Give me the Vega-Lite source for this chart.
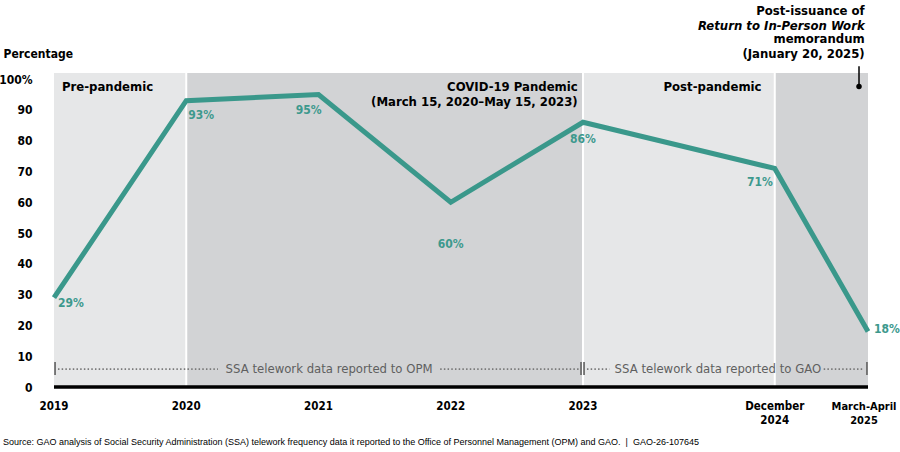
{
  "$schema": "https://vega.github.io/schema/vega-lite/v6.json",
  "autosize": {"type": "none"},
  "width": 814,
  "height": 314,
  "padding": {"left": 54, "top": 73, "right": 32, "bottom": 65},
  "background": "white",
  "config": {
    "view": {"stroke": null},
    "font": "DejaVu Sans Condensed, Roboto, sans-serif",
    "text": {"font": "DejaVu Sans Condensed, Roboto, sans-serif"},
    "axis": {"labelOverlap": false}
  },
  "title": {
    "text": "Source: GAO analysis of Social Security Administration (SSA) telework frequency data it reported to the Office of Personnel Management (OPM) and GAO.\u00a0\u00a0|\u00a0\u00a0GAO-26-107645",
    "orient": "bottom",
    "anchor": "start",
    "frame": "group",
    "font": "Liberation Sans",
    "fontSize": 9,
    "fontWeight": "normal",
    "color": "#000000",
    "offset": 11,
    "dx": -51
  },
  "datasets": {
    "series": [
      {"period": "2019", "pos": 0, "pct": 29, "label": "29%"},
      {"period": "2020", "pos": 1, "pct": 93, "label": "93%"},
      {"period": "2021", "pos": 2, "pct": 95, "label": "95%"},
      {"period": "2022", "pos": 3, "pct": 60, "label": "60%"},
      {"period": "2023", "pos": 4, "pct": 86, "label": "86%"},
      {"period": "December\n2024", "pos": 5.45, "pct": 71, "label": "71%"},
      {"period": "March-April\n2025", "pos": 6.155, "pct": 18, "label": "18%"}
    ],
    "phases": [
      {"phase": "Pre-pandemic", "start": 0, "end": 1, "shade": "light"},
      {"phase": "COVID-19 Pandemic", "start": 1, "end": 4, "shade": "dark"},
      {"phase": "Post-pandemic", "start": 4, "end": 5.45, "shade": "light"},
      {"phase": "Post-issuance", "start": 5.45, "end": 6.155, "shade": "dark"}
    ],
    "separators": [{"pos": 1}, {"pos": 4}, {"pos": 5.45}],
    "dots": [
      {"x1": 0.03, "x2": 1.24},
      {"x1": 2.92, "x2": 3.97},
      {"x1": 4.03, "x2": 4.2},
      {"x1": 5.82, "x2": 6.12}
    ],
    "bars": [{"pos": 0.008}, {"pos": 3.985}, {"pos": 4.008}, {"pos": 6.147}],
    "sources": [
      {"text": "SSA telework data reported to OPM", "pos": 2.08},
      {"text": "SSA telework data reported to GAO", "pos": 5.02}
    ]
  },
  "layer": [
    {
      "data": {"name": "phases"},
      "mark": {"type": "rect"},
      "encoding": {
        "x": {"field": "start", "type": "quantitative", "scale": {"domain": [0, 6.155], "nice": false, "zero": false}, "axis": null},
        "x2": {"field": "end"},
        "y": {"datum": 0, "type": "quantitative", "scale": {"domain": [0, 102], "nice": false}},
        "y2": {"datum": 102},
        "color": {"field": "shade", "type": "nominal", "scale": {"domain": ["light", "dark"], "range": ["#e6e7e8", "#d2d3d5"]}, "legend": null}
      }
    },
    {
      "data": {"name": "separators"},
      "mark": {"type": "rule", "color": "#ffffff", "strokeWidth": 2},
      "encoding": {
        "x": {"field": "pos", "type": "quantitative"},
        "y": {"datum": 0},
        "y2": {"datum": 102}
      }
    },
    {
      "data": {"name": "dots"},
      "mark": {"type": "rule", "color": "#7a7a7a", "strokeWidth": 1.6, "strokeDash": [1.5, 2.2]},
      "encoding": {
        "x": {"field": "x1", "type": "quantitative"},
        "x2": {"field": "x2"},
        "y": {"datum": 5.8}
      }
    },
    {
      "data": {"name": "bars"},
      "mark": {"type": "rule", "color": "#6e6e6e", "strokeWidth": 1.8},
      "encoding": {
        "x": {"field": "pos", "type": "quantitative"},
        "y": {"datum": 3.9},
        "y2": {"datum": 8.1}
      }
    },
    {
      "data": {"name": "sources"},
      "mark": {"type": "text", "fontSize": 13, "color": "#5f5f5f", "align": "center", "baseline": "middle"},
      "encoding": {
        "x": {"field": "pos", "type": "quantitative"},
        "y": {"datum": 5.8},
        "text": {"field": "text"}
      }
    },
    {
      "data": {"values": [{"from": 0, "to": 6.155}]},
      "mark": {"type": "rule", "color": "#000000", "strokeWidth": 3.5},
      "encoding": {
        "x": {"field": "from", "type": "quantitative"},
        "x2": {"field": "to"},
        "y": {"datum": 0}
      }
    },
    {
      "data": {"name": "series"},
      "mark": {"type": "line", "color": "#3a988b", "strokeWidth": 5, "strokeJoin": "miter"},
      "encoding": {
        "x": {"field": "pos", "type": "quantitative"},
        "y": {"field": "pct", "type": "quantitative", "axis": {
          "values": [0, 10, 20, 30, 40, 50, 60, 70, 80, 90, 100],
          "tickCount": 11,
          "labelExpr": "datum.value == 100 ? '100%' : datum.label",
          "labelOverlap": false,
          "domain": false, "ticks": false, "grid": false,
          "labelFontSize": 12, "labelFontWeight": "bold", "labelColor": "#000000",
          "labelPadding": 22,
          "title": "Percentage", "titleAngle": 0, "titleAlign": "left", "titleBaseline": "middle",
          "titleX": -51, "titleY": -20, "titleFontSize": 12, "titleFontWeight": "bold", "titleColor": "#000000"
        }}
      }
    },
    {
      "data": {"name": "series"},
      "transform": [{"filter": "datum.pos == 0"}],
      "mark": {"type": "text", "fontSize": 12, "fontWeight": "bold", "color": "#3d998d", "align": "left", "baseline": "middle", "dx": 4, "dy": 5},
      "encoding": {"x": {"field": "pos", "type": "quantitative"}, "y": {"field": "pct", "type": "quantitative"}, "text": {"field": "label"}}
    },
    {
      "data": {"name": "series"},
      "transform": [{"filter": "datum.pos == 1"}],
      "mark": {"type": "text", "fontSize": 12, "fontWeight": "bold", "color": "#3d998d", "align": "left", "baseline": "middle", "dx": 2, "dy": 14},
      "encoding": {"x": {"field": "pos", "type": "quantitative"}, "y": {"field": "pct", "type": "quantitative"}, "text": {"field": "label"}}
    },
    {
      "data": {"name": "series"},
      "transform": [{"filter": "datum.pos == 2"}],
      "mark": {"type": "text", "fontSize": 12, "fontWeight": "bold", "color": "#3d998d", "align": "right", "baseline": "middle", "dx": 3, "dy": 15},
      "encoding": {"x": {"field": "pos", "type": "quantitative"}, "y": {"field": "pct", "type": "quantitative"}, "text": {"field": "label"}}
    },
    {
      "data": {"name": "series"},
      "transform": [{"filter": "datum.pos == 3"}],
      "mark": {"type": "text", "fontSize": 12, "fontWeight": "bold", "color": "#3d998d", "align": "center", "baseline": "middle", "dy": 42},
      "encoding": {"x": {"field": "pos", "type": "quantitative"}, "y": {"field": "pct", "type": "quantitative"}, "text": {"field": "label"}}
    },
    {
      "data": {"name": "series"},
      "transform": [{"filter": "datum.pos == 4"}],
      "mark": {"type": "text", "fontSize": 12, "fontWeight": "bold", "color": "#3d998d", "align": "center", "baseline": "middle", "dy": 17},
      "encoding": {"x": {"field": "pos", "type": "quantitative"}, "y": {"field": "pct", "type": "quantitative"}, "text": {"field": "label"}}
    },
    {
      "data": {"name": "series"},
      "transform": [{"filter": "datum.pos == 5.45"}],
      "mark": {"type": "text", "fontSize": 12, "fontWeight": "bold", "color": "#3d998d", "align": "right", "baseline": "middle", "dx": -2, "dy": 14},
      "encoding": {"x": {"field": "pos", "type": "quantitative"}, "y": {"field": "pct", "type": "quantitative"}, "text": {"field": "label"}}
    },
    {
      "data": {"name": "series"},
      "transform": [{"filter": "datum.pos > 6"}],
      "mark": {"type": "text", "fontSize": 12, "fontWeight": "bold", "color": "#3d998d", "align": "left", "baseline": "middle", "dx": 6, "dy": -3},
      "encoding": {"x": {"field": "pos", "type": "quantitative"}, "y": {"field": "pct", "type": "quantitative"}, "text": {"field": "label"}}
    },
    {
      "data": {"name": "series"},
      "transform": [{"filter": "datum.pos < 6"}],
      "mark": {"type": "text", "fontSize": 11.5, "fontWeight": "bold", "color": "#000000", "align": "center", "baseline": "top", "lineBreak": "\n", "lineHeight": 14, "dy": 14},
      "encoding": {"x": {"field": "pos", "type": "quantitative"}, "y": {"datum": 0}, "text": {"field": "period"}}
    },
    {
      "data": {"name": "series"},
      "transform": [{"filter": "datum.pos > 6"}],
      "mark": {"type": "text", "fontSize": 11, "fontWeight": "bold", "color": "#000000", "align": "center", "baseline": "top", "lineBreak": "\n", "lineHeight": 14, "dy": 14, "dx": -4},
      "encoding": {"x": {"field": "pos", "type": "quantitative"}, "y": {"datum": 0}, "text": {"field": "period"}}
    },
    {
      "data": {"values": [{"text": "Pre-pandemic", "pos": 0.06, "y": 97.4}]},
      "mark": {"type": "text", "fontSize": 13, "fontWeight": "bold", "color": "#000000", "align": "left", "baseline": "middle"},
      "encoding": {"x": {"field": "pos", "type": "quantitative"}, "y": {"field": "y", "type": "quantitative"}, "text": {"field": "text"}}
    },
    {
      "data": {"values": [
        {"text": "COVID-19 Pandemic", "pos": 3.96, "y": 97.4},
        {"text": "(March 15, 2020\u2013May 15, 2023)", "pos": 3.96, "y": 92.6},
        {"text": "Post-pandemic", "pos": 5.35, "y": 97.4}
      ]},
      "mark": {"type": "text", "fontSize": 13, "fontWeight": "bold", "color": "#000000", "align": "right", "baseline": "middle"},
      "encoding": {"x": {"field": "pos", "type": "quantitative"}, "y": {"field": "y", "type": "quantitative"}, "text": {"field": "text"}}
    },
    {
      "data": {"values": [
        {"text": "Post-issuance of", "pos": 6.13, "y": 122.1},
        {"text": "memorandum", "pos": 6.13, "y": 112.9},
        {"text": "(January 20, 2025)", "pos": 6.13, "y": 108.1}
      ]},
      "mark": {"type": "text", "fontSize": 13, "fontWeight": "bold", "color": "#000000", "align": "right", "baseline": "middle"},
      "encoding": {"x": {"field": "pos", "type": "quantitative"}, "y": {"field": "y", "type": "quantitative"}, "text": {"field": "text"}}
    },
    {
      "data": {"values": [{"text": "Return to In-Person Work", "pos": 6.13, "y": 117.4}]},
      "mark": {"type": "text", "fontSize": 13, "fontWeight": "bold", "fontStyle": "italic", "color": "#000000", "align": "right", "baseline": "middle"},
      "encoding": {"x": {"field": "pos", "type": "quantitative"}, "y": {"field": "y", "type": "quantitative"}, "text": {"field": "text"}}
    },
    {
      "data": {"values": [{"pos": 6.087, "y1": 97.6, "y2": 104.2}]},
      "mark": {"type": "rule", "color": "#000000", "strokeWidth": 1.5},
      "encoding": {"x": {"field": "pos", "type": "quantitative"}, "y": {"field": "y1", "type": "quantitative"}, "y2": {"field": "y2"}}
    },
    {
      "data": {"values": [{"pos": 6.087, "y": 97.6}]},
      "mark": {"type": "point", "filled": true, "color": "#000000", "size": 30, "opacity": 1},
      "encoding": {"x": {"field": "pos", "type": "quantitative"}, "y": {"field": "y", "type": "quantitative"}}
    }
  ]
}
